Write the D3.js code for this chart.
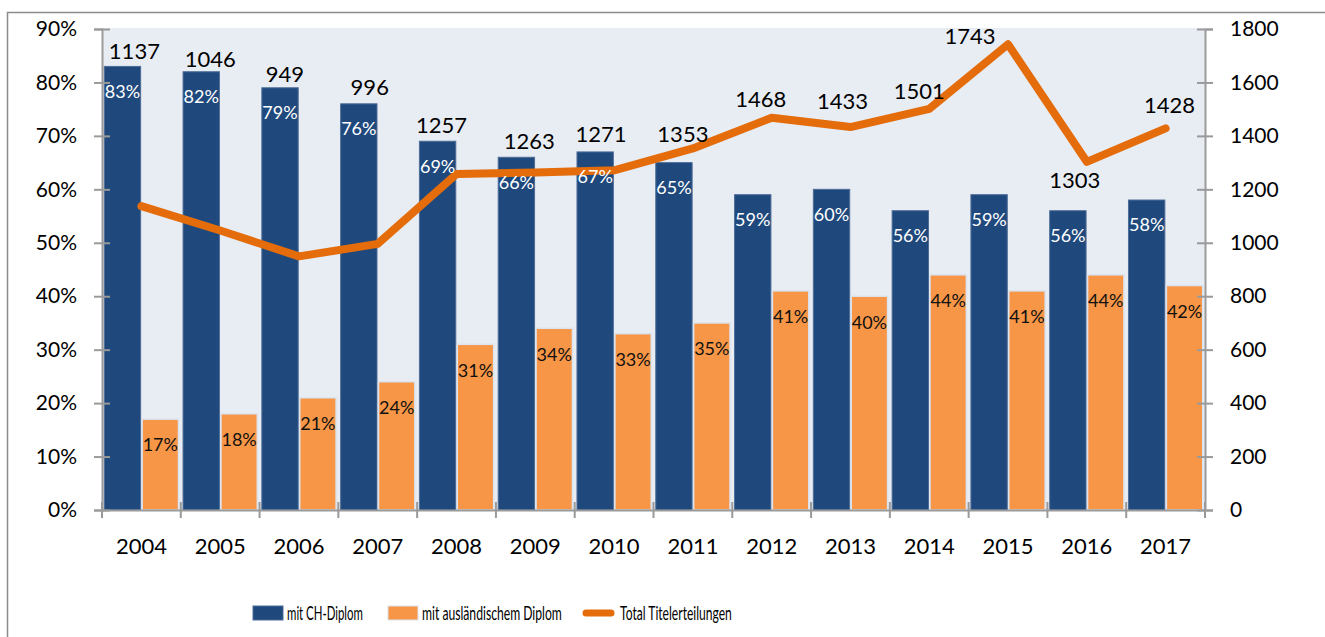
<!DOCTYPE html>
<html>
<head>
<meta charset="utf-8">
<script src="https://cdn.jsdelivr.net/npm/d3@7"></script>
<style>
  body { margin: 0; background: #fff; }
  svg { display: block; font-family: Lato, "Open Sans", sans-serif; }
</style>
</head>
<body>
<div id="chart"></div>
<script>
// data
var years = ["2004","2005","2006","2007","2008","2009","2010","2011","2012","2013","2014","2015","2016","2017"];
var chDiplom = [83,82,79,76,69,66,67,65,59,60,56,59,56,58];
var auslDiplom = [17,18,21,24,31,34,33,35,41,40,44,41,44,42];
var totalTitel = [1137,1046,949,996,1257,1263,1271,1353,1468,1433,1501,1743,1303,1428];
var pctTicks = [0,10,20,30,40,50,60,70,80,90];
var countTicks = [0,200,400,600,800,1000,1200,1400,1600,1800];
var seriesNames = ["mit CH-Diplom", "mit ausländischem Diplom", "Total Titelerteilungen"];

// hand placed labels of the line (pixel offset from the point)
var lineLabelShift = [[-7,-155],[-10,-171],[-14,-182],[-8,-157],[-15,-49],[-6,-31],[-13,-36],
                      [-10,-14],[-11,-18],[-8,-26],[-10,-18],[-38,-8],[-12,18],[4,-23]];

var W = 1325, H = 637;
var plot = {left:102, right:1205, top:29, bottom:510};

var navy = "#1f497d", orange = "#f79646", lineCol = "#e46c0a";

var svg = d3.select("#chart").append("svg")
    .attr("width", W).attr("height", H);

// outer frame
svg.append("rect")
    .attr("x", 7.5).attr("y", 12.5)
    .attr("width", W + 20).attr("height", H + 20)
    .attr("fill", "none").attr("stroke", "#8c8c8c").attr("stroke-width", 1.5);

// scales
var x = d3.scaleBand().domain(years).range([plot.left, plot.right]);
var x1 = d3.scaleBand().domain(["ch","ausl"]).range([0, x.bandwidth()])
    .paddingInner(0.04).paddingOuter(0.06);
var yL = d3.scaleLinear().domain([0,90]).range([plot.bottom, plot.top]);
var yR = d3.scaleLinear().domain([0,1800]).range([plot.bottom, plot.top]);

// plot background
svg.append("rect")
    .attr("x", plot.left).attr("y", plot.top - 1)
    .attr("width", plot.right - plot.left).attr("height", plot.bottom - plot.top + 1)
    .attr("fill", "#e8ecf3");

var rows = years.map(function(y, i){
    return {year: y, ch: chDiplom[i], ausl: auslDiplom[i], total: totalTitel[i], i: i};
});

// bars
svg.append("g").selectAll("rect")
    .data(rows).enter().append("rect")
    .attr("x", d => x(d.year) + x1("ch"))
    .attr("y", d => yL(d.ch))
    .attr("width", x1.bandwidth())
    .attr("height", d => yL(0) - yL(d.ch))
    .attr("fill", navy).attr("stroke", "#4d6d97").attr("stroke-width", 1);

svg.append("g").selectAll("rect")
    .data(rows).enter().append("rect")
    .attr("x", d => x(d.year) + x1("ausl"))
    .attr("y", d => yL(d.ausl))
    .attr("width", x1.bandwidth())
    .attr("height", d => yL(0) - yL(d.ausl))
    .attr("fill", orange).attr("stroke", "#dbe4f0").attr("stroke-width", 1.5);

// axes
var axisCol = "#9a9a9a";
function styleAxis(g){
    g.select(".domain").attr("stroke", axisCol).attr("stroke-width", 2);
    g.selectAll(".tick line").attr("stroke", axisCol).attr("stroke-width", 2);
    g.selectAll(".tick text").attr("fill", "#000").attr("font-family", "Lato, sans-serif");
}

var gL = svg.append("g").attr("transform", "translate(" + plot.left + ",0)")
    .call(d3.axisLeft(yL).tickValues(pctTicks).tickFormat(d => d + "%").tickSizeOuter(0).tickSize(8).tickPadding(17));
gL.selectAll(".tick line").attr("x2", 8).attr("x1", -8);
gL.selectAll(".tick text").attr("font-size", 21);
styleAxis(gL);

var gR = svg.append("g").attr("transform", "translate(" + plot.right + ",0)")
    .call(d3.axisRight(yR).tickValues(countTicks).tickFormat(d3.format("d")).tickSizeOuter(0).tickSize(8).tickPadding(17));
gR.selectAll(".tick line").attr("x1", -8).attr("x2", 8);
gR.selectAll(".tick text").attr("font-size", 21);
styleAxis(gR);

var gB = svg.append("g").attr("transform", "translate(0," + plot.bottom + ")")
    .call(d3.axisBottom(x).tickSize(0).tickSizeOuter(0).tickPadding(28));
gB.selectAll(".tick text").attr("font-size", 22);
styleAxis(gB);
// category separators
gB.selectAll(".sep").data(years.concat(["end"])).enter().append("line")
    .attr("x1", (d, i) => plot.left + i * x.step())
    .attr("x2", (d, i) => plot.left + i * x.step())
    .attr("y1", -8).attr("y2", 8)
    .attr("stroke", axisCol).attr("stroke-width", 2);

// line
var line = d3.line()
    .x(d => x(d.year) + x.bandwidth()/2)
    .y(d => yR(d.total));

svg.append("path")
    .datum(rows)
    .attr("d", line)
    .attr("fill", "none")
    .attr("stroke", lineCol)
    .attr("stroke-width", 8)
    .attr("stroke-linejoin", "round")
    .attr("stroke-linecap", "round");

// bar labels (drawn over the line, as in the original)
svg.append("g").selectAll("text")
    .data(rows).enter().append("text")
    .attr("x", d => x(d.year) + x1("ch") + x1.bandwidth()/2)
    .attr("y", d => yL(d.ch) + 25)
    .attr("dy", "0.35em")
    .attr("text-anchor", "middle")
    .attr("font-size", 18).attr("fill", "#fff")
    .text(d => d.ch + "%");

svg.append("g").selectAll("text")
    .data(rows).enter().append("text")
    .attr("x", d => x(d.year) + x1("ausl") + x1.bandwidth()/2)
    .attr("y", d => yL(d.ausl) + 26)
    .attr("dy", "0.35em")
    .attr("text-anchor", "middle")
    .attr("font-size", 18).attr("fill", "#111")
    .text(d => d.ausl + "%");

svg.append("g").selectAll("text")
    .data(rows).enter().append("text")
    .attr("x", d => x(d.year) + x.bandwidth()/2 + lineLabelShift[d.i][0])
    .attr("y", d => yR(d.total) + lineLabelShift[d.i][1])
    .attr("dy", "0.35em")
    .attr("text-anchor", "middle")
    .attr("font-size", 22).attr("fill", "#000")
    .text(d => d.total);

// legend (the original uses a narrow face, so squeeze the text horizontally)
var lg = svg.append("g");
var legendItems = [
    {name: seriesNames[0], x: 253, textX: 287, textLen: 76, kind: "bar", color: navy},
    {name: seriesNames[1], x: 388, textX: 422, textLen: 140, kind: "bar", color: orange},
    {name: seriesNames[2], x: 583, textX: 620, textLen: 112, kind: "line", color: lineCol}
];
legendItems.forEach(function(it){
    if (it.kind === "bar") {
        lg.append("rect").attr("x", it.x).attr("y", 606).attr("width", 30).attr("height", 14)
            .attr("fill", it.color).attr("stroke", it.color === navy ? "#4d6d97" : "#dbe4f0");
    } else {
        lg.append("line").attr("x1", it.x + 3).attr("x2", it.x + 28).attr("y1", 613).attr("y2", 613)
            .attr("stroke", it.color).attr("stroke-width", 7).attr("stroke-linecap", "round");
    }
    var t = lg.append("text").attr("x", 0).attr("y", 0)
        .attr("font-size", 19)
        .attr("fill", "#000")
        .text(it.name);
    var natural = t.node().getComputedTextLength();
    t.attr("transform", "translate(" + it.textX + ",620) scale(" + (it.textLen / natural) + ",1)");
});
</script>
</body>
</html>
